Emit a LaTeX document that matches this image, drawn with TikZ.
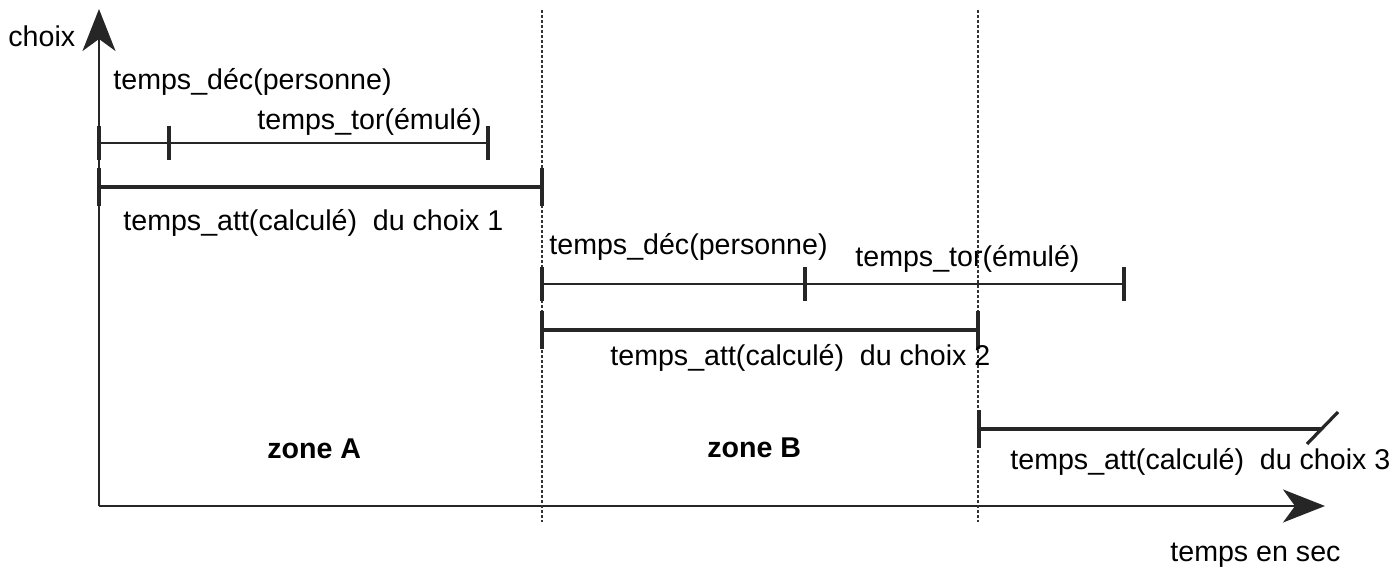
\documentclass[tikz,border=0pt]{standalone}
\usepackage{fontspec}
\setmainfont{Liberation Sans}
\usetikzlibrary{arrows.meta}

\tikzset{
    lbl/.style={anchor=base west, inner sep=0pt, font=\fontsize{14.3}{17}\selectfont},
    zonelbl/.style={lbl, font=\fontsize{14.3}{17}\selectfont\bfseries},
    axis/.style={line width=1pt, black!85, -{Stealth[length=21pt,width=16.5pt,inset=6pt]}},
    bound/.style={line width=0.6pt, dash pattern=on 1.5pt off 1pt, black!80},
    thinseg/.style={line width=1pt, black!85},
    thickseg/.style={line width=2pt, black!85},
    barmark/.style={line width=1.6pt, black!85},
}

\begin{document}
\begin{tikzpicture}[x=0.5pt, y=-0.5pt]
    \useasboundingbox (0,0) rectangle (1398,567);

    % ---- Axes ----
    \coordinate (O) at (99,506);
    \coordinate (ytip) at (99,9);
    \coordinate (xtip) at (1325,506);
    \draw[axis] (O) -- (ytip);
    \draw[axis] (O) -- (xtip);
    \node[lbl] (choix) at (8,47) {choix};
    \node[lbl] (tsec) at (1170,561) {temps en sec};

    % ---- Zone boundaries ----
    \coordinate (zAtop) at (542,10);
    \coordinate (zAbot) at (542,522);
    \coordinate (zBtop) at (978,10);
    \coordinate (zBbot) at (978,522);
    \draw[bound] (zAtop) -- (zAbot);
    \draw[bound] (zBtop) -- (zBbot);

    % ---- Choice 1 ----
    \coordinate (s1) at (99,143);
    \coordinate (d1) at (169,143);
    \coordinate (t1) at (488,143);
    \coordinate (a1) at (99,187);
    \coordinate (b1) at (542,187);
    \draw[thinseg] (s1) -- (t1);
    \draw[thickseg] (a1) -- (b1);
    \foreach \c in {s1,d1,t1}
        \draw[barmark] (\c) ++(0,-17) -- ++(0,34);
    \foreach \c in {a1,b1}
        \draw[barmark] (\c) ++(0,-19) -- ++(0,38);
    \node[lbl] (dec1) at (113,90) {temps\_déc(personne)};
    \node[lbl] (tor1) at (257,130) {temps\_tor(émulé)};
    \node[lbl] (att1) at (123,230) {temps\_att(calculé)~~du choix 1};

    % ---- Choice 2 ----
    \coordinate (s2) at (542,284);
    \coordinate (d2) at (805,284);
    \coordinate (t2) at (1124,284);
    \coordinate (a2) at (542,330);
    \coordinate (b2) at (978,330);
    \draw[thinseg] (s2) -- (t2);
    \draw[thickseg] (a2) -- (b2);
    \foreach \c in {s2,d2,t2}
        \draw[barmark] (\c) ++(0,-17) -- ++(0,34);
    \foreach \c in {a2,b2}
        \draw[barmark] (\c) ++(0,-19) -- ++(0,38);
    \node[lbl] (dec2) at (549,254) {temps\_déc(personne)};
    \node[lbl] (tor2) at (855,266) {temps\_tor(émulé)};
    \node[lbl] (att2) at (610,365) {temps\_att(calculé)~~du choix 2};

    % ---- Choice 3 (open end) ----
    \coordinate (a3) at (979,429);
    \coordinate (b3) at (1321,429);
    \draw[thickseg] (a3) -- (b3);
    \draw[barmark] (a3) ++(0,-19) -- ++(0,38);
    \draw[barmark] (b3) ++(-14,15) -- ++(31,-32);
    \node[lbl] (att3) at (1010,469) {temps\_att(calculé)~~du choix 3};

    % ---- Zones ----
    \node[zonelbl] (zoneA) at (267,458) {zone A};
    \node[zonelbl] (zoneB) at (707,457) {zone B};
\end{tikzpicture}
\end{document}
